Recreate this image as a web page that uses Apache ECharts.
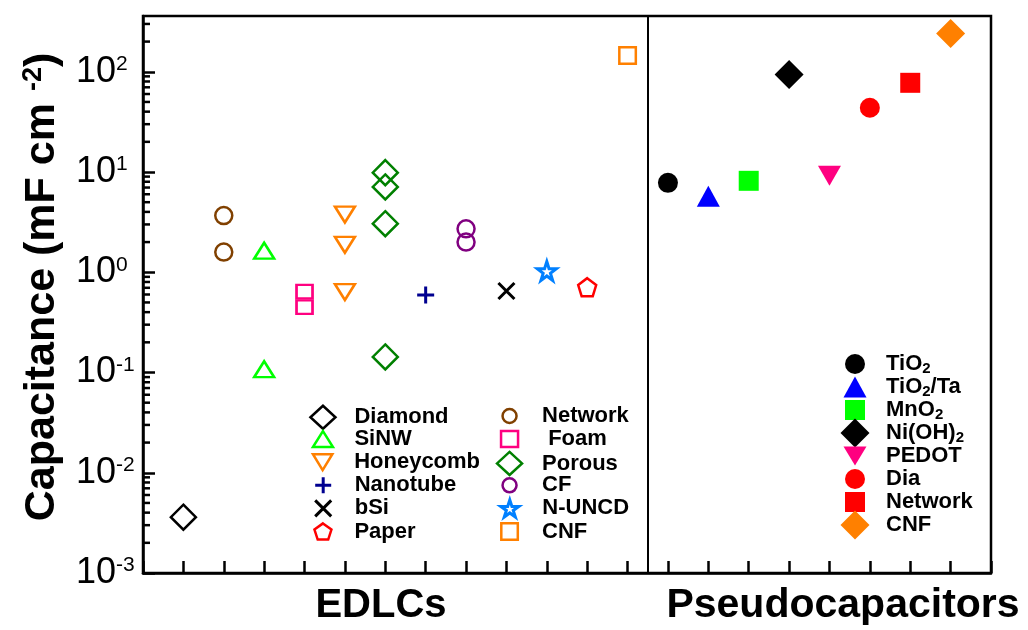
<!DOCTYPE html>
<html><head><meta charset="utf-8">
<script src="https://cdn.jsdelivr.net/npm/echarts@6/dist/echarts.min.js"></script>
<style>html,body{margin:0;padding:0;background:#fff}#c{width:1028px;height:630px}</style>
</head><body><div id="c"></div>
<script>
// ---------------- DATA ----------------
// EDLC materials, plotted left to right in this order
const edlcNames = ['Diamond','Network','SiNW','Foam','Honeycomb','Porous','Nanotube','CF','bSi','N-UNCD','Paper','CNF'];
const edlcLegendText = ['Diamond','Network','SiNW',' Foam','Honeycomb','Porous','Nanotube','CF','bSi','N-UNCD','Paper','CNF'];
const vDiamond   = [0.0036];
const vNetwork   = [3.68, 1.59];
const vSiNW      = [1.64, 0.108];
const vFoam      = [0.64, 0.449];
const vHoneycomb = [3.76, 1.88, 0.634];
const vPorous    = [9.86, 7.1, 3.05, 0.143];
const vNanotube  = [0.594];
const vCF        = [2.71, 2.0];
const vbSi       = [0.651];
const vNUNCD     = [1.03];
const vPaper     = [0.71];
const vCNF       = [145];
const edlcValues = [vDiamond, vNetwork, vSiNW, vFoam, vHoneycomb, vPorous, vNanotube, vCF, vbSi, vNUNCD, vPaper, vCNF];

// Pseudocapacitor materials, continuing to the right
const pseudoNames = ['TiO2','TiO2/Ta','MnO2','Ni(OH)2','PEDOT','Dia','Network (P)','CNF (P)'];
const pseudoLegendText = ['TiO{sub|2}','TiO{sub|2}{t|/Ta}','MnO{sub|2}','Ni(OH){sub|2}','PEDOT','Dia','Network','CNF'];
const pseudoValues = [7.8, 5.74, 8.17, 94, 9.2, 43.8, 77.6, 241];

// axis ticks
const yMin = 0.001, yMax = 360;
const xMin = -1, xMax = 20;
const dividerAt = 11.5;
const minorTickValues = [
  0.002,0.003,0.004,0.005,0.006,0.007,0.008,0.009,
  0.02,0.03,0.04,0.05,0.06,0.07,0.08,0.09,
  0.2,0.3,0.4,0.5,0.6,0.7,0.8,0.9,
  2,3,4,5,6,7,8,9,
  20,30,40,50,60,70,80,90,
  200,300
];

// ---------------- STYLES ----------------
const FONT = '"Liberation Sans", Arial, Helvetica, sans-serif';
const PLUS = 'path://M0,-1L0,1M-1,0L1,0';
const CROSS = 'path://M-1,-1L1,1M-1,1L1,-1';
const PENTA = 'path://M0,-1L0.951,-0.309L0.588,0.809L-0.588,0.809L-0.951,-0.309Z';
const STAR = 'path://M0,-1L0.2245,-0.309L0.951,-0.309L0.363,0.118L0.588,0.809L0,0.382L-0.588,0.809L-0.363,0.118L-0.951,-0.309L-0.2245,-0.309Z';
const DOWN = 'path://M0,0L20,0L10,16.5Z';
const edlcStyle = [
  {symbol:'diamond', size:[25,25], lsize:[25,23], color:'#000000', bw:2.5},
  {symbol:'circle', size:[17,17], lsize:[14,14], color:'#804000', bw:2.5},
  {symbol:'triangle', size:[20,16], lsize:[20,16], color:'#00ff00', bw:2.5},
  {symbol:'rect', size:[16,13.5], lsize:[17,16], color:'#ff0080', bw:2.5},
  {symbol:DOWN, size:[20,16], lsize:[20,16], color:'#ff8000', bw:2.5},
  {symbol:'diamond', size:[25,25], lsize:[25,23], color:'#008000', bw:2.5},
  {symbol:PLUS, size:[17,17], lsize:[16,16], color:'#000090', bw:3},
  {symbol:'circle', size:[17,17], lsize:[14,14], color:'#800080', bw:2.5},
  {symbol:CROSS, size:[16,16], lsize:[16,16], color:'#000000', bw:3},
  {symbol:STAR, size:[19,19], lsize:[18,18], color:'#0080ff', bw:3},
  {symbol:PENTA, size:[18,18], lsize:[17,17], color:'#ff0000', bw:2.5},
  {symbol:'rect', size:[16.5,16.5], lsize:[16.5,16.5], color:'#ff8000', bw:2.5}
];
const pseudoStyle = [
  {symbol:'circle', size:[20,20], color:'#000000'},
  {symbol:'triangle', size:[23,21], color:'#0000ff'},
  {symbol:'rect', size:[20,20], color:'#00ff00'},
  {symbol:'diamond', size:[29,29], color:'#000000'},
  {symbol:DOWN, size:[23,20], lsize:[23,19], color:'#ff0080'},
  {symbol:'circle', size:[20,20], color:'#ff0000'},
  {symbol:'rect', size:[20,20], color:'#ff0000'},
  {symbol:'diamond', size:[29,29], color:'#ff8000'}
];

// legend layout (icon centre x, first row y, row step, text offset from icon centre)
const legendCols = [
  {cx:321.7, y0:416, step:23.1, tx:31.5},
  {cx:508.3, y0:416, step:23.1, tx:32.5},
  {cx:855,   y0:364, step:23.0, tx:31}
];

// ---------------- BUILD ----------------
const series = [];
const legends = [];
const LFS = 22;
function addLegend(name, st, col, row, text) {
  const c = legendCols[col];
  const ls = st.lsize || st.size;
  const h = Math.max(ls[1], LFS);
  legends.push({
    data:[{name: name, icon: st.symbol}], selectedMode:false, orient:'vertical',
    left: c.cx - ls[0]/2, top: c.y0 + row*c.step - h/2,
    padding:0, itemWidth: ls[0], itemHeight: ls[1],
    itemStyle: {borderWidth: st.bw || 0, opacity:1},
    formatter: () => text,
    textStyle: {
      fontFamily: FONT, fontSize: LFS, fontWeight:'bold', color:'#000',
      padding:[0,0,0, c.tx - ls[0]/2 - 5],
      rich: {
        t: {fontFamily: FONT, fontSize: LFS, fontWeight:'bold', color:'#000'},
        sub: {fontFamily: FONT, fontSize: 15, fontWeight:'bold', color:'#000', verticalAlign:'bottom', padding:[9,0,0,0]}
      }
    }
  });
}

edlcNames.forEach((n, i) => {
  const st = edlcStyle[i];
  series.push({
    type:'scatter', name:n, symbol:st.symbol, symbolSize:st.size,
    itemStyle:{color:'rgba(255,255,255,0)', borderColor:st.color, borderWidth:st.bw, opacity:1},
    emphasis:{disabled:true}, z:3,
    data: edlcValues[i].map(v => [i, v])
  });
  addLegend(n, st, i % 2, Math.floor(i / 2), edlcLegendText[i]);
});
pseudoNames.forEach((n, j) => {
  const st = pseudoStyle[j];
  series.push({
    type:'scatter', name:n, symbol:st.symbol, symbolSize:st.size,
    itemStyle:{color:st.color, opacity:1},
    emphasis:{disabled:true}, z:3,
    data: [[edlcNames.length + j, pseudoValues[j]]]
  });
  addLegend(n, st, 2, j, pseudoLegendText[j]);
});

// divider between EDLCs and pseudocapacitors
series.push({
  type:'line', data:[], silent:true,
  markLine:{silent:true, symbol:'none', label:{show:false},
    lineStyle:{color:'#000', width:2, type:'solid', opacity:1}, data:[{xAxis:dividerAt}]}
});
// log-spaced minor ticks on the y axis (short bars hanging off the left axis)
series.push({
  type:'scatter', name:'_minor', silent:true, z:5,
  symbol:'rect', symbolSize:[7, 2.5], symbolOffset:[3.5, 0],
  itemStyle:{color:'#000', opacity:1},
  emphasis:{disabled:true},
  data: minorTickValues.map(v => [xMin, v])
});

const option = {
  backgroundColor:'#fff',
  animation:false,
  grid:{left:143, right:37, top:16, bottom:57, show:true, borderColor:'#000', borderWidth:2.5, containLabel:false},
  xAxis:{type:'value', min:xMin, max:xMax, interval:1,
    axisLine:{onZero:false, lineStyle:{color:'#000', width:2.5}},
    axisTick:{inside:true, length:12, lineStyle:{color:'#000', width:2.5}},
    axisLabel:{show:false}, splitLine:{show:false}},
  yAxis:{type:'log', logBase:10, min:yMin, max:yMax,
    axisLine:{onZero:false, lineStyle:{color:'#000', width:2.5}},
    axisTick:{inside:true, length:12, lineStyle:{color:'#000', width:2.5}},
    splitLine:{show:false}, minorTick:{show:false},
    axisLabel:{margin:67, align:'left', showMaxLabel:false,
      formatter: v => {
        const e = Math.log10(v); const r = Math.round(e);
        if (Math.abs(e - r) > 1e-6) return '';
        return '{b|10}{s|' + r + '}';
      },
      rich:{
        b:{fontFamily:FONT, fontSize:36, color:'#000', lineHeight:36},
        s:{fontFamily:FONT, fontSize:21, color:'#000', verticalAlign:'top', lineHeight:21}
      }}},
  legend: legends,
  graphic:[
    {type:'text', x:42, y:287, rotation:Math.PI/2, style:{
      text:'{t|Capacitance (mF cm }{s|-2}{t|)}', align:'center', verticalAlign:'middle',
      rich:{t:{fontFamily:FONT, fontSize:43, fontWeight:'bold', fill:'#000'},
            s:{fontFamily:FONT, fontSize:27, fontWeight:'bold', fill:'#000', verticalAlign:'top'}}}},
    {type:'text', x:381, y:606, style:{text:'EDLCs', fontFamily:FONT, fontSize:40, fontWeight:'bold', fill:'#000', align:'center', verticalAlign:'middle'}},
    {type:'text', x:843, y:606, style:{text:'Pseudocapacitors', fontFamily:FONT, fontSize:41, fontWeight:'bold', fill:'#000', align:'center', verticalAlign:'middle'}}
  ],
  series: series
};
const chart = echarts.init(document.getElementById('c'), null, {renderer:'canvas'});
chart.setOption(option);
</script></body></html>
